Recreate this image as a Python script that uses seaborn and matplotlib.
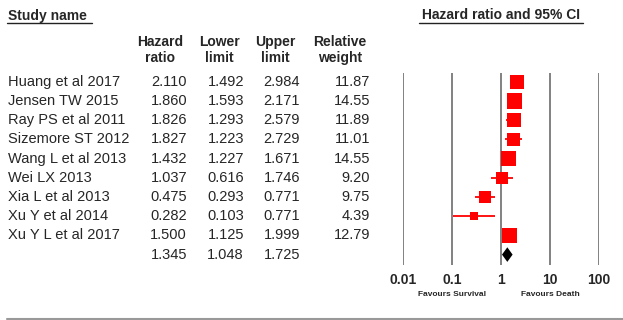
import numpy as np
import pandas as pd
import matplotlib
matplotlib.use("Agg")
import matplotlib.pyplot as plt
import seaborn as sns

studies = ["Huang et al 2017", "Jensen TW 2015", "Ray PS et al 2011", "Sizemore ST 2012",
           "Wang L et al 2013", "Wei LX 2013", "Xia L et al 2013", "Xu Y et al 2014",
           "Xu Y L et al 2017"]
hazard = [2.110, 1.860, 1.826, 1.827, 1.432, 1.037, 0.475, 0.282, 1.500]
lower = [1.492, 1.593, 1.293, 1.223, 1.227, 0.616, 0.293, 0.103, 1.125]
upper = [2.984, 2.171, 2.579, 2.729, 1.671, 1.746, 0.771, 0.771, 1.999]
weight = [11.87, 14.55, 11.89, 11.01, 14.55, 9.20, 9.75, 4.39, 12.79]
summary = [1.345, 1.048, 1.725]  # hazard, lower, upper
tick_vals = [0.01, 0.1, 1, 10, 100]
tick_labels = ["0.01", "0.1", "1", "10", "100"]

sns.set_theme(style="white")
plt.rcParams["font.family"] = ["Liberation Sans", "DejaVu Sans"]

W, H = 623, 320
fig = plt.figure(figsize=(W / 100, H / 100), dpi=100)

# overlay axes in pixel coordinates for headers and rules
ov = fig.add_axes([0, 0, 1, 1])
ov.set_xlim(0, W)
ov.set_ylim(H, 0)
ov.axis("off")

# forest axes
fx0, fx1, fy0, fy1 = 403, 599, 73, 265
row0, step = 81.8, 19.2
ax = fig.add_axes([fx0 / W, 1 - fy1 / H, (fx1 - fx0) / W, (fy1 - fy0) / H])
ax.set_xscale("log")
ax.set_xlim(0.01, 100)
ax.set_ylim((fy1 - row0) / step, (fy0 - row0) / step)

df = pd.DataFrame({"study": studies, "hr": hazard, "lo": lower, "hi": upper,
                   "w": weight, "row": np.arange(len(studies))})

ax.hlines(df["row"], df["lo"], df["hi"], color="#ff0000", lw=1.3, zorder=3)
sns.scatterplot(data=df, x="hr", y="row", size="w", sizes=(0, 165), size_norm=(0, 20),
                marker="s", color="#ff0000", linewidth=0, legend=False, ax=ax, zorder=4)

srow = len(studies)
hh = 0.38
ax.fill([summary[1], summary[0], summary[2], summary[0]],
        [srow, srow - hh, srow, srow + hh], color="black", zorder=4, lw=0)

ax.set_xticks(tick_vals)
ax.set_xticklabels(tick_labels, fontsize=10, fontweight="bold")
ax.xaxis.set_minor_locator(matplotlib.ticker.NullLocator())
ax.tick_params(axis="x", length=0, pad=6)
ax.set_yticks([])
ax.grid(axis="x", color="#777777", lw=1.3)
ax.grid(axis="y", visible=False)
for s in ax.spines.values():
    s.set_visible(False)
ax.set_xlabel("")
ax.set_ylabel("")

# table text
fs = 10.5
def ypix(r):
    return row0 + r * step

for i in range(len(studies)):
    y = ypix(i)
    ov.text(8, y, studies[i], fontsize=fs, ha="left", va="center")
    ov.text(187, y, f"{hazard[i]:.3f}", fontsize=fs, ha="right", va="center")
    ov.text(244, y, f"{lower[i]:.3f}", fontsize=fs, ha="right", va="center")
    ov.text(300, y, f"{upper[i]:.3f}", fontsize=fs, ha="right", va="center")
    ov.text(370, y, f"{weight[i]:.2f}", fontsize=fs, ha="right", va="center")
y = ypix(srow)
ov.text(187, y, f"{summary[0]:.3f}", fontsize=fs, ha="right", va="center")
ov.text(244, y, f"{summary[1]:.3f}", fontsize=fs, ha="right", va="center")
ov.text(300, y, f"{summary[2]:.3f}", fontsize=fs, ha="right", va="center")

# headers
hfs = 10
ov.text(8, 16, "Study name", fontsize=hfs, fontweight="bold", ha="left", va="center")
ov.plot([7, 92], [23, 23], color="#222222", lw=1)
ov.text(501, 15, "Hazard ratio and 95% CI", fontsize=hfs, fontweight="bold", ha="center", va="center")
ov.plot([419, 583], [22.5, 22.5], color="#222222", lw=1)
for xc, l1, l2 in [(160, "Hazard", "ratio"), (219, "Lower", "limit"),
                   (275, "Upper", "limit"), (340, "Relative", "weight")]:
    ov.text(xc, 42, l1, fontsize=hfs, fontweight="bold", ha="center", va="center")
    ov.text(xc, 58, l2, fontsize=hfs, fontweight="bold", ha="center", va="center")

ov.text(452, 294, "Favours Survival", fontsize=6, fontweight="bold", ha="center", va="center")
ov.text(550, 294, "Favours Death", fontsize=6, fontweight="bold", ha="center", va="center")

ov.plot([7, 623], [318.5, 318.5], color="#999999", lw=1.5)

fig.savefig("out.png", dpi=100)
